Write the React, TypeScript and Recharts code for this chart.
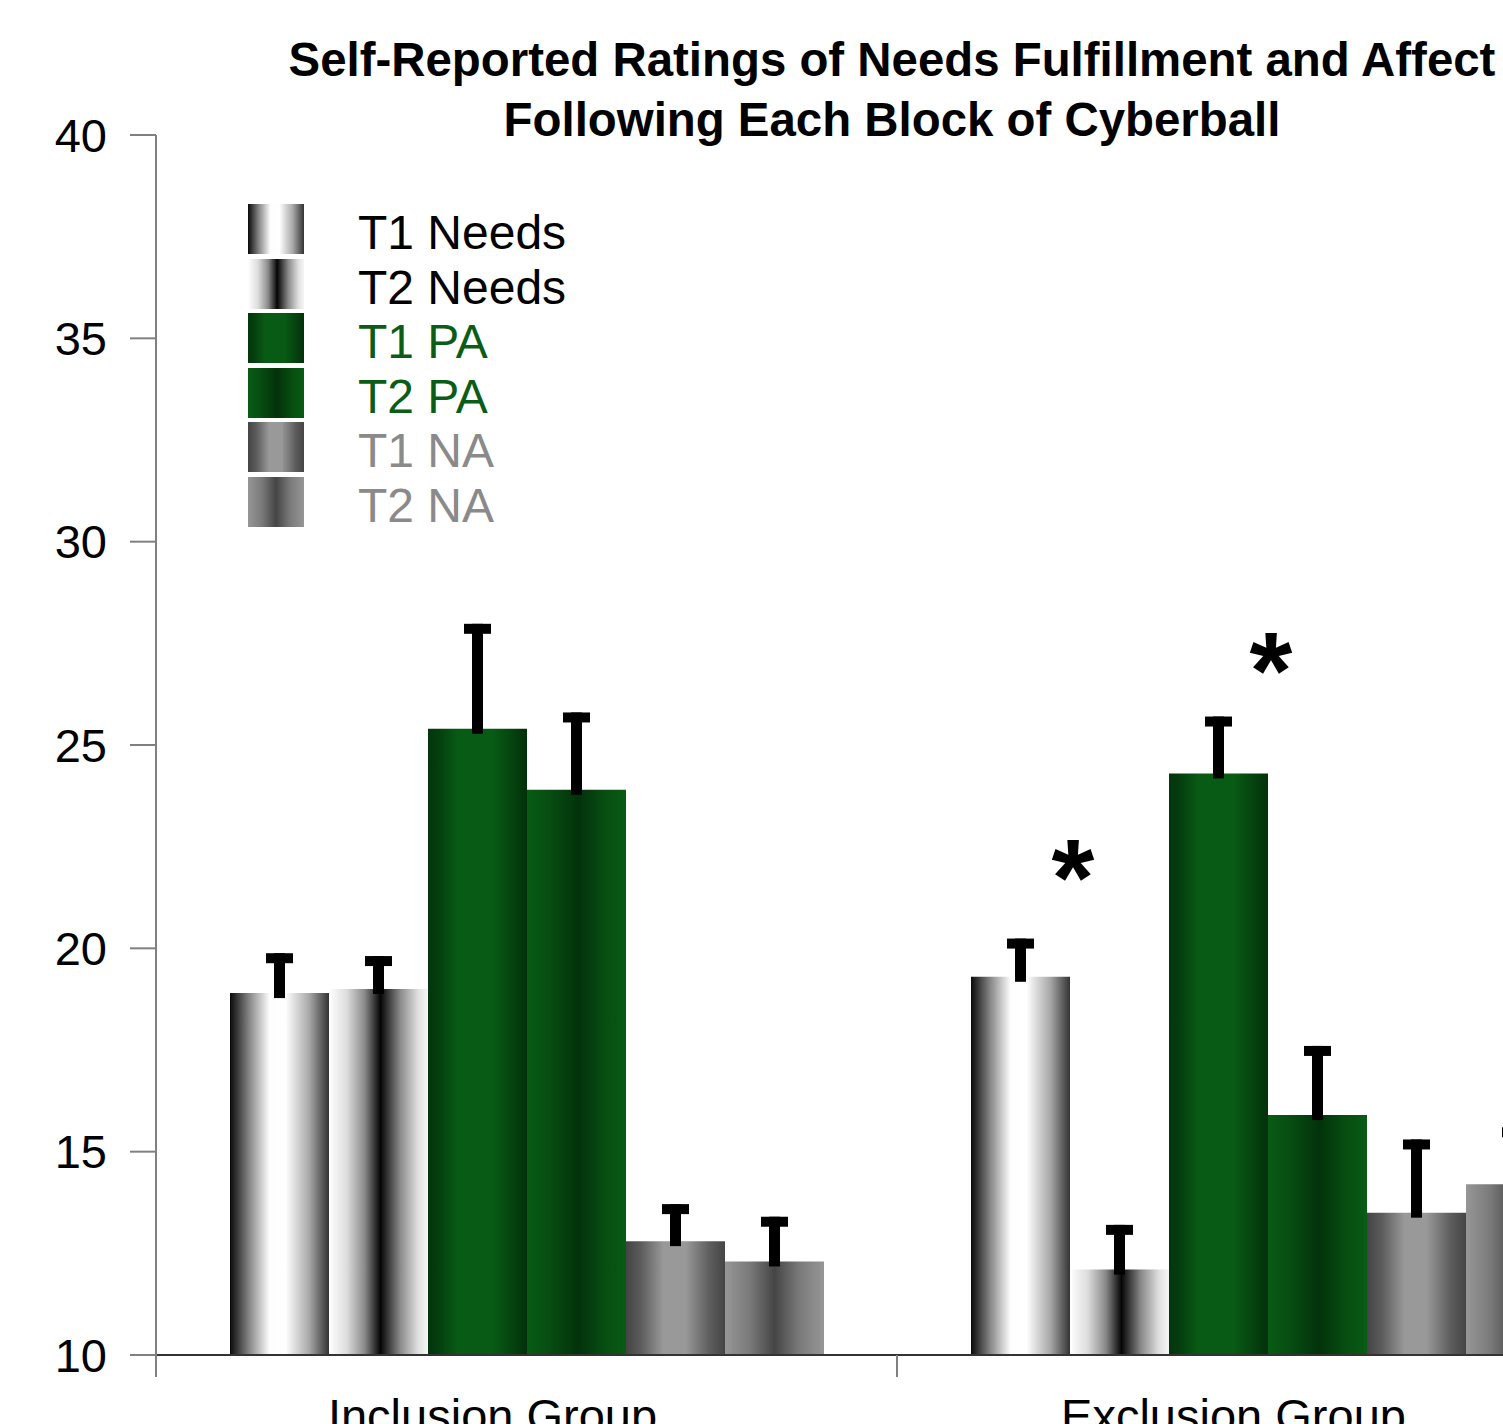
import React from 'react'
import { BarChart, Bar, XAxis, YAxis, Legend, LabelList } from 'recharts'

const groups = ['Inclusion Group', 'Exclusion Group']
const seriesNames = ['T1 Needs', 'T2 Needs', 'T1 PA', 'T2 PA', 'T1 NA', 'T2 NA']
const yTicks = [10, 15, 20, 25, 30, 35, 40]
const yDomain = [10, 40]

// means per group (inclusion, exclusion)
const t1Needs = [18.9, 19.3]
const t2Needs = [19.0, 12.1]
const t1PA = [25.4, 24.3]
const t2PA = [23.9, 15.9]
const t1NA = [12.8, 13.5]
const t2NA = [12.3, 14.2]

// upper error bar lengths
const t1NeedsErr = [0.98, 0.94]
const t2NeedsErr = [0.81, 1.1]
const t1PAErr = [2.58, 1.4]
const t2PAErr = [1.9, 1.7]
const t1NAErr = [0.91, 1.8]
const t2NAErr = [1.1, 1.4]

// height of the significance stars
const sigNeeds = [null, 22.35]
const sigPA = [null, 27.45]

const seriesKeys = ['t1Needs', 't2Needs', 't1PA', 't2PA', 't1NA', 't2NA']
const meanLists = [t1Needs, t2Needs, t1PA, t2PA, t1NA, t2NA]
const errLists = [t1NeedsErr, t2NeedsErr, t1PAErr, t2PAErr, t1NAErr, t2NAErr]
const sigLists = [sigNeeds, null, sigPA, null, null, null]

const data = groups.map((group, i) => {
  const row: any = { group }
  seriesKeys.forEach((k, s) => {
    row[k] = meanLists[s][i]
    row[k + 'Err'] = errLists[s][i]
  })
  return row
})

const FONT = '"Liberation Sans", Arial, sans-serif'

const gradients: [number, string][][] = [
  [[0, '#0a0a0a'], [0.2, '#8a8a8a'], [0.4, '#fdfdfd'], [0.56, '#ffffff'], [0.8, '#a8a8a8'], [1, '#333333']],
  [[0, '#ffffff'], [0.18, '#dcdcdc'], [0.36, '#8a8a8a'], [0.52, '#050505'], [0.72, '#8a8a8a'], [0.9, '#e0e0e0'], [1, '#f6f6f6']],
  [[0, '#03360c'], [0.1, '#043d0e'], [0.3, '#085b14'], [0.65, '#085b14'], [0.88, '#053f0e'], [1, '#03300a']],
  [[0, '#085b14'], [0.2, '#074f12'], [0.52, '#03320b'], [0.8, '#074f12'], [1, '#085b14']],
  [[0, '#444444'], [0.15, '#5c5c5c'], [0.38, '#999999'], [0.6, '#999999'], [0.85, '#5c5c5c'], [1, '#454545']],
  [[0, '#969696'], [0.25, '#7a7a7a'], [0.5, '#454545'], [0.75, '#7a7a7a'], [1, '#969696']]
]

const legendColors = ['#000000', '#000000', '#0b5c16', '#0b5c16', '#8a8a8a', '#8a8a8a']

const cssGradient = (stops: [number, string][]) =>
  `linear-gradient(to right, ${stops.map(([o, c]) => `${c} ${o * 100}%`).join(', ')})`

const ErrShape = (props: any) => {
  const { x, y, width, height } = props
  const cx = x + width / 2
  return (
    <g>
      <rect x={cx - 5.5} y={y} width={11} height={height + 5} fill="#000" />
      <rect x={cx - 13.5} y={y} width={27} height={10} fill="#000" />
    </g>
  )
}

const STAR_SIZE = 110

// the bar runs from the bottom of the domain up to its mean, so its
// height gives the pixels per unit of the y scale
const renderStar = (sig: (number | null)[], means: number[]) => (props: any) => {
  const { x, y, width, height, index } = props
  const s = sig[index]
  if (s == null) return null
  const value = means[index]
  const perUnit = height / (value - yDomain[0])
  const cy = y - (s - value) * perUnit
  return (
    <text
      x={x + width + 3}
      y={cy + STAR_SIZE * 0.565}
      textAnchor="middle"
      fontSize={STAR_SIZE}
      fontWeight="bold"
      fontFamily={FONT}
      fill="#000"
    >
      *
    </text>
  )
}

const GroupTick = (props: any) => {
  const { x, y, payload } = props
  const half = payload.offset ?? 0
  return (
    <g>
      <line x1={x - half} y1={y} x2={x - half} y2={y + 22} stroke="#808080" strokeWidth={2} />
      <text x={x - 34} y={y + 77} textAnchor="middle" fontSize={47} fontFamily={FONT} fill="#000">
        {payload.value}
      </text>
    </g>
  )
}

const renderLegend = () => (
  <div style={{ fontFamily: FONT }}>
    {seriesNames.map((name, i) => (
      <div key={name} style={{ position: 'relative', height: 54.6 }}>
        <span
          style={{
            position: 'absolute',
            left: 0,
            top: 0,
            width: 56,
            height: 50,
            background: cssGradient(gradients[i])
          }}
        />
        <span
          style={{
            position: 'absolute',
            left: 110,
            top: 2,
            fontSize: 48,
            lineHeight: '54.6px',
            color: legendColors[i],
            whiteSpace: 'nowrap'
          }}
        >
          {name}
        </span>
      </div>
    ))}
  </div>
)

export default function App() {
  return (
    <div
      style={{
        position: 'fixed',
        left: 0,
        top: 0,
        width: 1503,
        height: 1424,
        overflow: 'hidden',
        background: '#fff'
      }}
    >
      <div
        style={{
          position: 'absolute',
          left: 0,
          top: 30,
          width: 1784,
          textAlign: 'center',
          fontFamily: FONT,
          fontWeight: 'bold',
          fontSize: 47.4,
          lineHeight: '60px',
          color: '#000',
          zIndex: 2
        }}
      >
        Self-Reported Ratings of Needs Fulfillment and Affect
        <br />
        Following Each Block of Cyberball
      </div>
      <BarChart
        width={1700}
        height={1480}
        data={data}
        margin={{ top: 135, right: 62, bottom: 25, left: 0 }}
        barCategoryGap={74}
        barGap={0}
      >
        <defs>
          {gradients.map((stops, i) => (
            <linearGradient key={i} id={`grad${i}`} x1="0" y1="0" x2="1" y2="0">
              {stops.map(([o, c], j) => (
                <stop key={j} offset={o} stopColor={c} />
              ))}
            </linearGradient>
          ))}
        </defs>
        <XAxis
          dataKey="group"
          height={100}
          axisLine={{ stroke: '#333333', strokeWidth: 2 }}
          tickLine={false}
          tickSize={0}
          tickMargin={0}
          tick={<GroupTick />}
          interval={0}
        />
        <YAxis
          width={156}
          domain={yDomain}
          ticks={yTicks}
          allowDataOverflow
          axisLine={{ stroke: '#808080', strokeWidth: 2 }}
          tickLine={{ stroke: '#808080', strokeWidth: 2 }}
          tickSize={26}
          tickMargin={23}
          tick={{ fontSize: 47, fill: '#000', fontFamily: FONT }}
        />
        <Legend
          layout="vertical"
          align="center"
          verticalAlign="middle"
          content={renderLegend}
          wrapperStyle={{ top: 204, left: 248, width: 420, height: 'auto' }}
        />
        {seriesKeys.flatMap((k, s) => [
          <Bar
            key={k}
            dataKey={k}
            name={seriesNames[s]}
            stackId={k}
            fill={`url(#grad${s})`}
            isAnimationActive={false}
          >
            {sigLists[s] && <LabelList dataKey={k} content={renderStar(sigLists[s] as any, meanLists[s])} />}
          </Bar>,
          <Bar
            key={k + 'Err'}
            dataKey={k + 'Err'}
            stackId={k}
            fill="#000"
            legendType="none"
            shape={<ErrShape />}
            isAnimationActive={false}
          />
        ])}
      </BarChart>
    </div>
  )
}
